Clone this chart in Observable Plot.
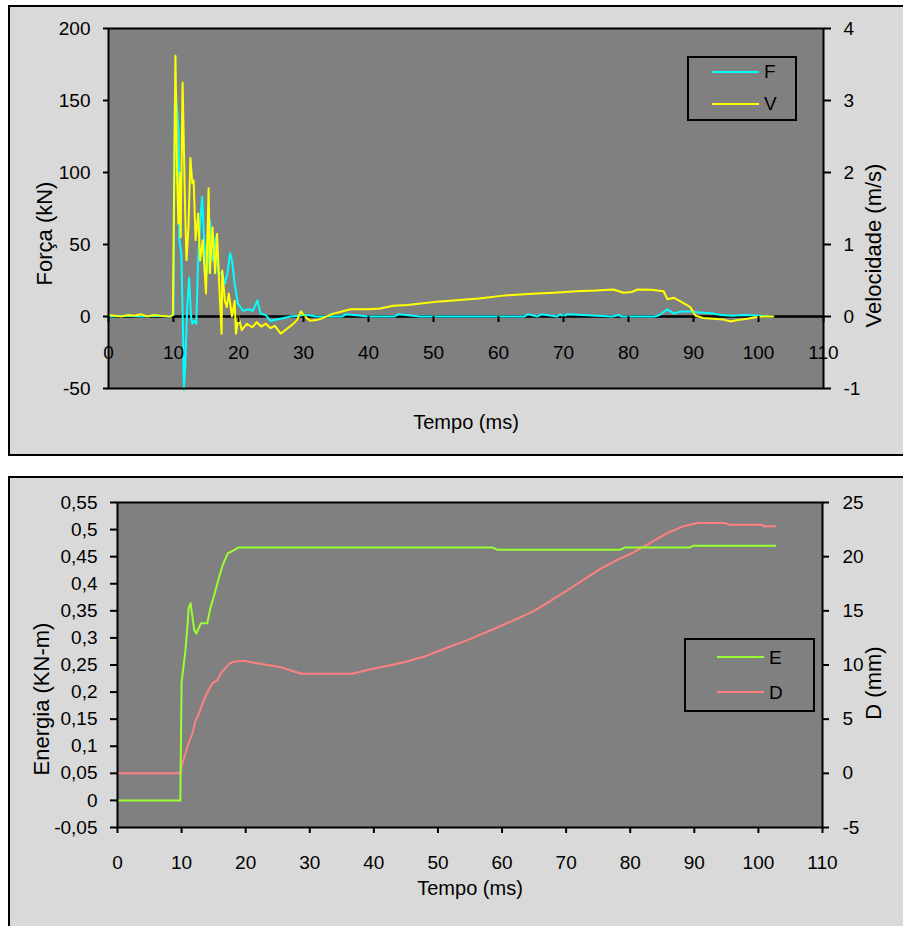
<!DOCTYPE html>
<html>
<head>
<meta charset="utf-8">
<script src="https://cdn.jsdelivr.net/npm/d3@7"></script>
<script src="https://cdn.jsdelivr.net/npm/@observablehq/plot@0.6"></script>
<style>
  html, body { margin: 0; padding: 0; background: #fff; }
  #page { position: relative; width: 903px; height: 926px; overflow: hidden; font-family: "Liberation Sans", Arial, sans-serif; }
  .panel { position: absolute; background: #d9d9d9; border: 2px solid #000; box-sizing: border-box; }
  .chart { position: absolute; left: 0; }
  .legend { position: absolute; border: 2px solid #000; box-sizing: border-box; }
  .legend .ln { position: absolute; height: 2px; }
  .legend .lb { position: absolute; font-size: 19px; line-height: 19px; color: #000; }
</style>
</head>
<body>
<div id="page">
  <div class="panel" style="left:8px; top:5px; width:905px; height:451px;"></div>
  <div class="panel" style="left:8px; top:476px; width:905px; height:460px;"></div>
  <div id="c1" class="chart" style="top:0px;"></div>
  <div id="c2" class="chart" style="top:460px;"></div>
  <div class="legend" style="left:687px; top:56px; width:110px; height:65px;">
    <div class="ln" style="left:23px; top:13px; width:47px; background:#00ffff;"></div>
    <div class="lb" style="left:75px; top:4px;">F</div>
    <div class="ln" style="left:23px; top:45px; width:47px; background:#ffff00;"></div>
    <div class="lb" style="left:75px; top:36px;">V</div>
  </div>
  <div class="legend" style="left:684px; top:638px; width:131px; height:74px;">
    <div class="ln" style="left:31px; top:16px; width:47px; background:#99ff33;"></div>
    <div class="lb" style="left:83px; top:8px;">E</div>
    <div class="ln" style="left:31px; top:51px; width:47px; background:#ff8080;"></div>
    <div class="lb" style="left:83px; top:43px;">D</div>
  </div>
</div>
<script>
// ---------- Data: top chart ----------
const xTicks = [0,10,20,30,40,50,60,70,80,90,100,110];
const fTicks = [-50,0,50,100,150,200];
const vTicks = [-1,0,1,2,3,4];
const VSCALE = 50; // 1 m/s on right axis == 50 kN on left axis

// Força (kN)
const tF = [0,3,5,7,9.5,10.0,10.2,10.4,10.8,10.9,11.2,11.5,11.6,11.8,12.1,12.4,12.7,12.9,13.2,13.5,13.8,14.2,14.4,14.7,15.2,15.6,16.0,16.5,16.9,17.4,17.9,18.3,18.7,19.0,19.4,19.9,20.7,21.5,22.2,22.9,23.4,24.2,24.9,26.5,28,30.6,32,36,36.5,40,44,44.6,48,60,64,64.5,66,66.6,69,69.5,70,70.6,77.5,78.5,79,84,84.8,86,87,88,89.8,90.6,93.1,94.2,96,98,100,102];
const F  = [0,0.5,0,0.5,0,1,148,152,129,53,44,-17,-51,-35,6,27,0,-5,-3,-5,41,71,83,53,30,67,39,55,30,30,23,30,44,39,23,9,4,5,4,11,2,1,-3,-1.5,0,1,0,0,1.5,0,0,1.5,0,0,0,1.5,0,1.5,0,1.5,0,1.5,0,1,0,0,1,5,2,3.5,3.5,3,2,1,0.5,1,0.5,0];

// Velocidade (m/s)
const tV = [0,2,3,4,5,6,7,8,9.5,9.9,10.3,10.57,10.75,11.0,11.1,11.4,11.8,12.0,12.3,12.6,12.9,13.1,13.4,13.8,14.1,14.5,15.0,15.4,15.6,16.0,16.4,16.7,17.1,17.4,17.5,17.9,18.2,18.5,19.0,19.4,19.6,20.0,20.5,21.3,22.1,22.8,23.5,24.2,24.9,25.6,26.5,27.3,28.2,29.0,29.6,30.2,31.0,32.0,33.0,34.6,35.5,37.2,40,41.8,43.8,46,48,51,54,57,60.8,64,66,68.5,72,75,77.7,79.2,80.5,81.4,83.5,85.4,86,87,88,89.5,90.3,91.5,93,94.5,95.7,96.8,98.3,99.5,101,102.3];
const V  = [0.02,0,0.02,0.01,0.03,0,0.02,0.01,0,0.02,3.62,1.89,1.29,1.99,1.1,3.25,1.43,0.78,1.24,2.2,1.85,1.89,1.06,1.43,0.78,1.06,0.32,1.78,0.6,1.24,0.6,1.15,0.32,-0.24,0.64,0.22,0.13,0.32,0,0.22,-0.24,0,-0.19,-0.1,-0.15,-0.08,-0.14,-0.1,-0.16,-0.13,-0.24,-0.18,-0.12,-0.05,0.07,0,-0.06,-0.05,-0.02,0.04,0.06,0.1,0.1,0.11,0.15,0.16,0.18,0.21,0.23,0.25,0.29,0.31,0.32,0.33,0.35,0.36,0.375,0.33,0.34,0.375,0.37,0.35,0.24,0.26,0.21,0.13,0.01,-0.02,-0.03,-0.04,-0.07,-0.05,-0.03,-0.01,0,0];

// ---------- Data: bottom chart ----------
const eTicks = [-0.05,0,0.05,0.1,0.15,0.2,0.25,0.3,0.35,0.4,0.45,0.5,0.55];
const dTicks = [-5,0,5,10,15,20,25];
const D_SCALE = 50, D_OFFSET = 0.05; // D(mm) = 50*(E - 0.05)

// Energia (KN-m)
const tE = [0,9.8,10.0,10.6,10.9,11.1,11.4,11.7,12.0,12.3,13.0,14.0,14.5,15.0,15.8,16.4,17.2,18.2,18.9,58.5,59.2,78.5,79.2,89.3,89.8,102.6];
const E  = [0,0,0.218,0.277,0.32,0.355,0.364,0.338,0.314,0.308,0.327,0.327,0.355,0.375,0.41,0.434,0.456,0.462,0.467,0.467,0.463,0.463,0.467,0.467,0.47,0.47];

// D (mm)
const tD = [0,9.8,10.1,10.6,11.1,11.7,12.2,12.7,13.3,13.8,14.8,15.6,16.1,17.4,18.1,19.7,21.3,23.4,25.5,27.5,28.8,36.6,39.5,42,45,48,51,54.6,57,59.8,62.5,65,67.5,70.2,72.8,75.4,78,80.5,83.2,85.8,88.3,90.5,94.9,95.4,100.6,100.8,102.6];
const Dv = [0,0,0.92,1.8,2.8,3.7,4.9,5.5,6.5,7.2,8.3,8.6,9.2,10.1,10.3,10.4,10.2,10.0,9.8,9.4,9.2,9.2,9.6,9.9,10.3,10.8,11.5,12.3,12.9,13.6,14.3,15.0,15.9,16.9,17.9,18.9,19.7,20.4,21.3,22.2,22.8,23.1,23.1,22.95,22.95,22.8,22.8];

const fmtComma = d => String(+d.toFixed(2)).replace(".", ",");
const fmtPlain = d => String(d);
const FONT = '"Liberation Sans", Arial, sans-serif';
const baseStyle = {background: "transparent", fontFamily: FONT, fontSize: "19px", color: "#000", overflow: "visible"};
const titleOpts = {textAnchor: "middle", lineAnchor: "middle", fill: "#000"};

// ---------- Top chart ----------
const fRows = tF.map((t, i) => ({t, v: F[i]}));
const vRows = tV.map((t, i) => ({t, v: V[i]}));

const chart1 = Plot.plot({
  width: 903, height: 460,
  marginLeft: 108, marginRight: 80, marginTop: 28, marginBottom: 72,
  style: baseStyle,
  x: {domain: [0, 110]},
  y: {domain: [-50, 200]},
  marks: [
    Plot.frame({fill: "#808080"}),
    Plot.ruleY([0], {stroke: "#000", strokeWidth: 2.5}),
    Plot.line(fRows, {x: "t", y: "v", stroke: "#00ffff", strokeWidth: 2}),
    Plot.line(vRows, {x: "t", y: d => d.v * VSCALE, stroke: "#ffff00", strokeWidth: 2}),
    Plot.frame({stroke: "#000", strokeWidth: 2}),
    Plot.axisY({anchor: "left", ticks: fTicks, tickFormat: fmtPlain, tickSize: 5, tickPadding: 13, strokeWidth: 2, label: null}),
    Plot.axisY({anchor: "right", ticks: vTicks.map(v => v * VSCALE), tickFormat: d => String(d / VSCALE), tickSize: 7, tickPadding: 13, strokeWidth: 2, label: null}),
    Plot.axisX({ticks: xTicks, tickFormat: fmtPlain, tickSize: 6, tickPadding: 23, dy: -72, strokeWidth: 2, label: null}),
    Plot.text(["Força (kN)"], {...titleOpts, frameAnchor: "left", rotate: -90, dx: -64, dy: 25, fontSize: 22}),
    Plot.text(["Velocidade (m/s)"], {...titleOpts, frameAnchor: "right", rotate: -90, dx: 50, dy: 37, fontSize: 22}),
    Plot.text(["Tempo (ms)"], {...titleOpts, frameAnchor: "bottom", dy: 34, fontSize: 20})
  ]
});
document.getElementById("c1").appendChild(chart1);

// ---------- Bottom chart ----------
const eRows = tE.map((t, i) => ({t, v: E[i]}));
const dRows = tD.map((t, i) => ({t, v: Dv[i]}));

const chart2 = Plot.plot({
  width: 903, height: 466,
  marginLeft: 117, marginRight: 81, marginTop: 42, marginBottom: 99,
  style: baseStyle,
  x: {domain: [0, 110]},
  y: {domain: [-0.05, 0.55]},
  marks: [
    Plot.frame({fill: "#808080"}),
    Plot.line(dRows, {x: "t", y: d => d.v / D_SCALE + D_OFFSET, stroke: "#ff8080", strokeWidth: 2}),
    Plot.line(eRows, {x: "t", y: "v", stroke: "#99ff33", strokeWidth: 2}),
    Plot.frame({stroke: "#000", strokeWidth: 2}),
    Plot.axisY({anchor: "left", ticks: eTicks, tickFormat: fmtComma, tickSize: 7, tickPadding: 13, strokeWidth: 2, label: null}),
    Plot.axisY({anchor: "right", ticks: dTicks.map(d => d / D_SCALE + D_OFFSET), tickFormat: e => String(Math.round((e - D_OFFSET) * D_SCALE)), tickSize: 6, tickPadding: 14, strokeWidth: 2, label: null}),
    Plot.axisX({ticks: xTicks, tickFormat: fmtPlain, tickSize: 6, tickPadding: 22, strokeWidth: 2, label: null}),
    Plot.text(["Energia (KN-m)"], {...titleOpts, frameAnchor: "left", rotate: -90, dx: -76, dy: 34, fontSize: 22}),
    Plot.text(["D (mm)"], {...titleOpts, frameAnchor: "right", rotate: -90, dx: 51, dy: 18, fontSize: 22}),
    Plot.text(["Tempo (ms)"], {...titleOpts, frameAnchor: "bottom", dy: 61, fontSize: 20})
  ]
});
document.getElementById("c2").appendChild(chart2);
</script>
</body>
</html>
